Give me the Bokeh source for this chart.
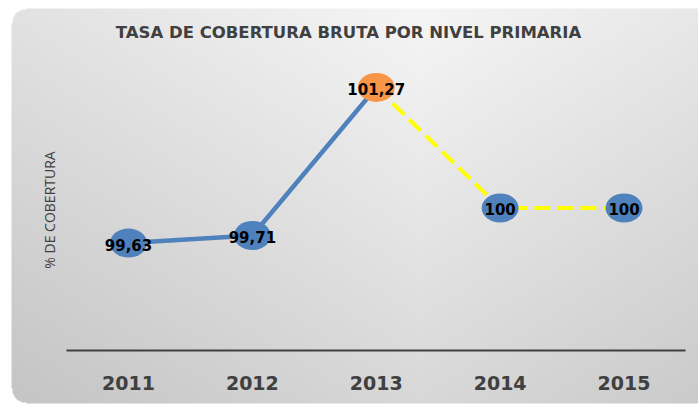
import numpy as np
from bokeh.plotting import figure
from bokeh.models import LinearAxis, FixedTicker, Range1d, Label
from bokeh.core.properties import value
from bokeh.embed import file_html
from bokeh.resources import INLINE

# ---- data ----
years = [2011, 2012, 2013, 2014, 2015]
coverage = [99.63, 99.71, 101.27, 100.0, 100.0]
point_labels = ["99,63", "99,71", "101,27", "100", "100"]
point_colors = ["#4F81BD", "#4F81BD", "#F79646", "#4F81BD", "#4F81BD"]
title_text = "TASA DE COBERTURA BRUTA POR NIVEL PRIMARIA"
y_label = "% DE COBERTURA"

# ---- figure ----
W, H = 698, 406
x0, x1 = 2009.967, 2015.601
y0, y1 = 97.908, 102.1865

p = figure(width=W, height=H, x_range=Range1d(x0, x1), y_range=Range1d(y0, y1),
           output_backend="svg", toolbar_location=None,
           x_axis_location=None, y_axis_location=None, min_border=0)
p.outline_line_color = None
p.border_fill_color = "white"
p.background_fill_color = "white"
p.xgrid.visible = False
p.ygrid.visible = False

# background: rounded panel with soft gradient
yy, xx = np.mgrid[0:H, 0:W]
px = xx
py = H - 1 - yy
g = 246 - 30 * (py / 400.0) - 20 * (np.abs(px - 420.0) / 420.0)
r = 15
L, T, B = 11, 8, 402
inside = (px >= L) & (py >= T) & (py <= B)
tl = (px < L + r) & (py < T + r) & (np.hypot(px - (L + r), py - (T + r)) > r)
bl = (px < L + r) & (py > B - r) & (np.hypot(px - (L + r), py - (B - r)) > r)
inside &= ~tl & ~bl
g = np.where(inside, g, 255).astype(np.uint8)
img = np.empty((H, W), dtype=np.uint32)
view = img.view(dtype=np.uint8).reshape((H, W, 4))
view[..., 0] = g
view[..., 1] = g
view[..., 2] = g
view[..., 3] = 255
p.image_rgba(image=[img], x=x0, y=y0, dw=x1 - x0, dh=y1 - y0, level="image")

# x axis inside the panel
xaxis = LinearAxis(fixed_location=98.5, bounds=(2010.5, 2015.5),
                   ticker=FixedTicker(ticks=years))
xaxis.axis_line_color = "#404040"
xaxis.axis_line_width = 2
xaxis.major_tick_line_color = None
xaxis.minor_tick_line_color = None
xaxis.major_tick_out = 0
xaxis.major_tick_in = 0
xaxis.major_label_standoff = 26
xaxis.major_label_text_font = "DejaVu Sans"
xaxis.major_label_text_font_style = "bold"
xaxis.major_label_text_font_size = "19px"
xaxis.major_label_text_color = "#404040"
p.add_layout(xaxis, "below")

# y axis: only its title
yaxis = LinearAxis(fixed_location=2010.435, bounds=(98.5, 101.46),
                   ticker=FixedTicker(ticks=[]), axis_label=y_label)
yaxis.axis_line_color = None
yaxis.major_tick_line_color = None
yaxis.minor_tick_line_color = None
yaxis.major_tick_out = 0
yaxis.major_tick_in = 0
yaxis.axis_label_standoff = 0
yaxis.axis_label_text_font = "Open Sans"
yaxis.axis_label_text_font_style = "normal"
yaxis.axis_label_text_font_size = "14px"
yaxis.axis_label_text_color = "#404040"
p.add_layout(yaxis, "left")

# series
p.line(years[:3], coverage[:3], line_color="#4F81BD", line_width=4.5)
p.line(years[2:], coverage[2:], line_color="#FFFF00", line_width=4, line_dash="16 7")
p.ellipse(x=years, y=coverage, width=37, height=29, width_units="screen",
          height_units="screen", fill_color=point_colors, line_color=None)
p.text(x=years, y=coverage, text=point_labels, text_font=value("DejaVu Sans"),
       text_font_style="bold", text_font_size="15px", text_color="black",
       text_align="center", text_baseline="middle", y_offset=1.5)

# title
p.add_layout(Label(x=348, y=374, x_units="screen", y_units="screen", text=title_text,
                   text_align="center", text_baseline="middle", text_font="DejaVu Sans",
                   text_font_style="bold", text_font_size="16.5px", text_color="#404040"))

open("out.html", "w").write(file_html(p, INLINE))
